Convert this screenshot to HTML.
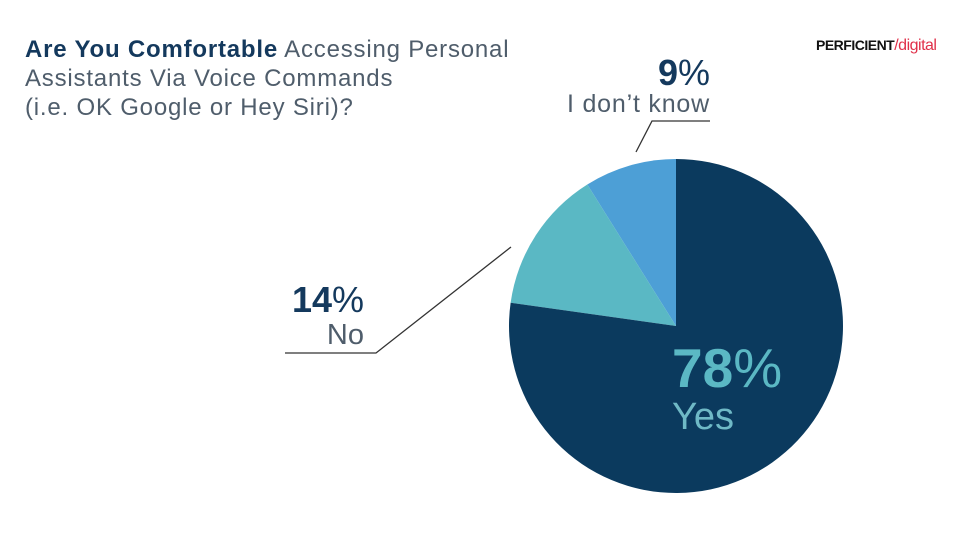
<!DOCTYPE html>
<html><head><meta charset="utf-8"><style>
body{margin:0;width:960px;height:540px;background:#fff;overflow:hidden;font-family:"Liberation Sans",sans-serif;position:relative}
.t{position:absolute;left:25px;top:35px;font-size:24px;line-height:29px;color:#4f5d6b;letter-spacing:0.8px}
.t b{color:#14395d}
.logo{position:absolute;left:816px;top:37px;font-size:14px;font-weight:bold;color:#111;letter-spacing:-0.5px}
.logo span{color:#e0304a;font-weight:normal;font-size:16px}
.lab{position:absolute;text-align:right;color:#4f5d6b}
.pct{font-size:36px;color:#14395d}
.pct b{font-weight:900}
.pct i{font-style:normal;font-weight:300;color:#14395d}
</style></head><body>
<div class="t"><b>Are You Comfortable</b> Accessing Personal<br>Assistants Via Voice Commands<br>(i.e. OK Google or Hey Siri)?</div>
<div class="logo">PERFICIENT<span>/digital</span></div>
<svg id="c" width="960" height="540" style="position:absolute;left:0;top:0">
<polyline points="285,353 376,353 511,247" fill="none" stroke="#333" stroke-width="1.3"/>
<polyline points="636,152 652,121 710,121" fill="none" stroke="#333" stroke-width="1.3"/>
</svg>
<div class="lab" style="right:596px;top:280px;width:120px"><div class="pct" style="line-height:40px"><b>14</b><i>%</i></div><div style="font-size:29px;line-height:30px;font-weight:300">No</div></div>
<div class="lab" style="right:250px;top:54px;width:220px"><div class="pct" style="line-height:38px"><b>9</b><i>%</i></div><div style="font-size:25px;line-height:24px;letter-spacing:0.8px">I don’t know</div></div>
<div class="lab" style="left:672px;top:338px;text-align:left"><div style="font-size:55px;line-height:60px;color:#5bb8c4"><b>78</b><span style="font-weight:300">%</span></div><div style="font-size:38px;line-height:38px;color:#6fb9c6">Yes</div></div>
<script>
const categories=["Yes","No","I don't know"];
const values=[78,14,9];
const colors=["#0b3a5e","#5ab8c4","#4d9fd6"];
const svg=document.getElementById('c');
const cx=676,cy=326,r=167;
const total=values.reduce((a,b)=>a+b,0);
let a0=0;
function pt(a){return [cx+r*Math.sin(a),cy-r*Math.cos(a)];}
values.forEach((v,i)=>{
 const a1=a0+v/total*2*Math.PI;
 const p0=pt(a0),p1=pt(a1);
 const large=(a1-a0)>Math.PI?1:0;
 const p=document.createElementNS('http://www.w3.org/2000/svg','path');
 p.setAttribute('d',`M${cx},${cy}L${p0[0]},${p0[1]}A${r},${r} 0 ${large} 1 ${p1[0]},${p1[1]}Z`);
 p.setAttribute('fill',colors[i]);
 
 
 svg.insertBefore(p,svg.firstChild);
 a0=a1;
});
</script>
</body></html>
